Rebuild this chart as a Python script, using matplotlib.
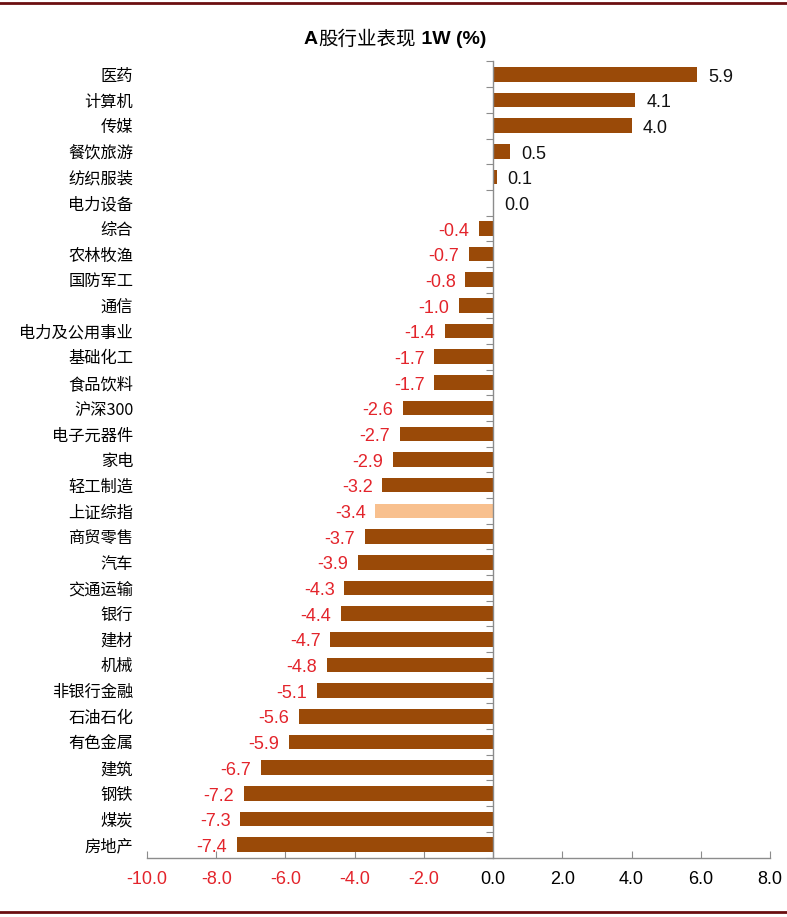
import matplotlib
matplotlib.use("Agg")
import matplotlib.pyplot as plt
from matplotlib.lines import Line2D

plt.rcParams['font.family'] = ['Liberation Sans', 'Noto Sans CJK SC', 'DejaVu Sans']

categories = ["医药", "计算机", "传媒", "餐饮旅游", "纺织服装", "电力设备", "综合", "农林牧渔",
              "国防军工", "通信", "电力及公用事业", "基础化工", "食品饮料", "沪深300", "电子元器件",
              "家电", "轻工制造", "上证综指", "商贸零售", "汽车", "交通运输", "银行", "建材", "机械",
              "非银行金融", "石油石化", "有色金属", "建筑", "钢铁", "煤炭", "房地产"]
values = [5.9, 4.1, 4.0, 0.5, 0.1, 0.0, -0.4, -0.7, -0.8, -1.0, -1.4, -1.7, -1.7, -2.6, -2.7,
          -2.9, -3.2, -3.4, -3.7, -3.9, -4.3, -4.4, -4.7, -4.8, -5.1, -5.6, -5.9, -6.7, -7.2,
          -7.3, -7.4]
highlight = "上证综指"
xticks = [-10, -8, -6, -4, -2, 0, 2, 4, 6, 8]
title_parts = [("A", "bold"), ("股行业表现", "normal"), (" 1W (%)", "bold")]

BAR = "#9A4A08"
HL = "#F8C08E"
RED = "#E3242B"
GREY = "#8C8C8C"

fig = plt.figure(figsize=(7.87, 9.17), dpi=100)
ax = fig.add_axes([147/787, 1-857.5/917, 623/787, 796/917])

colors = [HL if c == highlight else BAR for c in categories]
ypos = list(range(len(categories)))
ax.barh(ypos, values, height=0.57, color=colors, zorder=2)

ax.set_xlim(-10, 8)
ax.set_ylim(len(categories) - 0.5, -0.5)

for y, v in zip(ypos, values):
    if v < 0:
        ax.annotate(f"{v:.1f}", (v, y), xytext=(-7, -0.5), textcoords="offset points",
                    ha="right", va="center_baseline", color=RED, fontsize=13)
    else:
        ax.annotate(f"{v:.1f}", (v, y), xytext=(8, -0.5), textcoords="offset points",
                    ha="left", va="center_baseline", color="#111111", fontsize=13)

ax.set_yticks(ypos)
ax.set_yticklabels(categories, fontsize=11.7, family=['Noto Sans CJK SC', 'DejaVu Sans'])
ax.tick_params(axis='y', length=0, pad=10)

ax.set_xticks(xticks)
ax.set_xticklabels([f"{t:.1f}" for t in xticks], fontsize=13)
for lbl, t in zip(ax.get_xticklabels(), xticks):
    lbl.set_color(RED if t < 0 else "black")
ax.tick_params(axis='x', direction='in', length=5, color=GREY, pad=10)

for s in ['top', 'right', 'left']:
    ax.spines[s].set_visible(False)
ax.spines['bottom'].set_color(GREY)
ax.spines['bottom'].set_linewidth(1)

sec = ax.secondary_yaxis(10/18)
sec.set_yticks([i - 0.5 for i in range(len(categories) + 1)])
sec.set_yticklabels([])
sec.yaxis.set_ticks_position('left')
sec.tick_params(axis='y', direction='out', length=5, color=GREY)
for s in ['left', 'right']:
    sec.spines[s].set_color(GREY)
    sec.spines[s].set_linewidth(1)
sec.set_zorder(3)

# title composed of bold / normal pieces
fig.canvas.draw()
renderer = fig.canvas.get_renderer()
pieces = []
for txt, w in title_parts:
    t = fig.text(0, 1-40/917, txt, ha="left", va="center", fontsize=14, fontweight=w)
    pieces.append(t)
widths = [p.get_window_extent(renderer).width for p in pieces]
total = sum(widths)
x0 = 395 - total / 2
for p, wd in zip(pieces, widths):
    p.set_x(x0 / 787)
    x0 += wd

fig.add_artist(Line2D([0, 1], [1-3/917, 1-3/917], color="#6B0E10", lw=2, transform=fig.transFigure))
fig.add_artist(Line2D([0, 1], [1-912/917, 1-912/917], color="#6B0E10", lw=2, transform=fig.transFigure))

fig.savefig("out.png", dpi=100)
